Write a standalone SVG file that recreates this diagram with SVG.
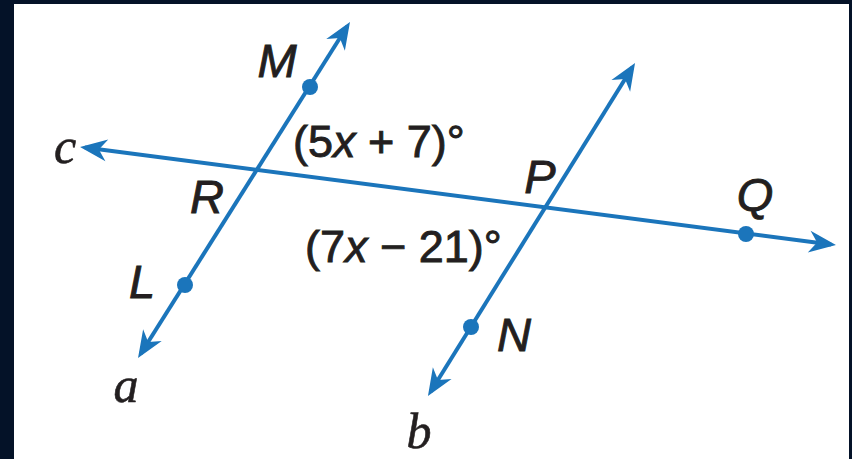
<svg xmlns="http://www.w3.org/2000/svg" width="852" height="459" viewBox="0 0 852 459">
  <style>
    .ln { stroke: #1b75bb; stroke-width: 4; fill: none; marker-start: url(#arr); marker-end: url(#arr); }
    .dot { fill: #1b75bb; }
    .lbl { font-family: "Liberation Sans", Arial, sans-serif; font-style: italic; font-size: 47px; fill: #231f20; stroke: #231f20; stroke-width: 0.9; text-anchor: middle; }
    .var { font-family: "Liberation Serif", "Times New Roman", serif; font-style: italic; font-size: 50px; fill: #231f20; stroke: #231f20; stroke-width: 0.6; text-anchor: middle; }
    .ang { font-family: "Liberation Sans", Arial, sans-serif; font-size: 45px; fill: #231f20; stroke: #231f20; stroke-width: 0.9; }
    .it { font-style: italic; }
  </style>
  <defs>
    <marker id="arr" markerUnits="userSpaceOnUse" markerWidth="40" markerHeight="40" viewBox="-30 -15 40 30" refX="-5" refY="0" orient="auto-start-reverse">
      <path d="M0,0 L-27,-11 L-19,0 L-27,11 Z" fill="#1b75bb"/>
    </marker>
  </defs>
  <rect x="0" y="0" width="852" height="459" fill="#041228"/>
  <rect x="14" y="4" width="835" height="455" fill="#ffffff"/>

  <g id="connectors">
    <line id="line-a" class="ln" x1="140.7" y1="353.8" x2="347.3" y2="26.2"/>
    <line id="line-b" class="ln" x1="430.6" y1="391.8" x2="632.4" y2="67.2"/>
    <line id="line-c" class="ln" x1="85" y1="147.6" x2="831" y2="244.4"/>
  </g>

  <g id="node-M"><circle class="dot" cx="310" cy="87" r="8"/><text class="lbl" x="277" y="77">M</text></g>
  <g id="node-L"><circle class="dot" cx="185" cy="285" r="8"/><text class="lbl" x="142" y="298">L</text></g>
  <g id="node-N"><circle class="dot" cx="471" cy="327" r="8"/><text class="lbl" x="514" y="351">N</text></g>
  <g id="node-Q"><circle class="dot" cx="746" cy="234" r="8"/><text class="lbl" x="755" y="211">Q</text></g>
  <g id="node-R"><text class="lbl" x="207" y="213">R</text></g>
  <g id="node-P"><text class="lbl" x="540" y="193">P</text></g>
  <g id="label-c"><text class="var" x="65" y="163">c</text></g>
  <g id="label-a"><text class="var" x="126" y="402">a</text></g>
  <g id="label-b"><text class="var" x="419" y="448">b</text></g>
  <g id="angle-top"><text class="ang" x="293" y="157">(5<tspan class="it">x</tspan> + 7)°</text></g>
  <g id="angle-bottom"><text class="ang" x="305" y="262">(7<tspan class="it">x</tspan> − 21)°</text></g>
</svg>
